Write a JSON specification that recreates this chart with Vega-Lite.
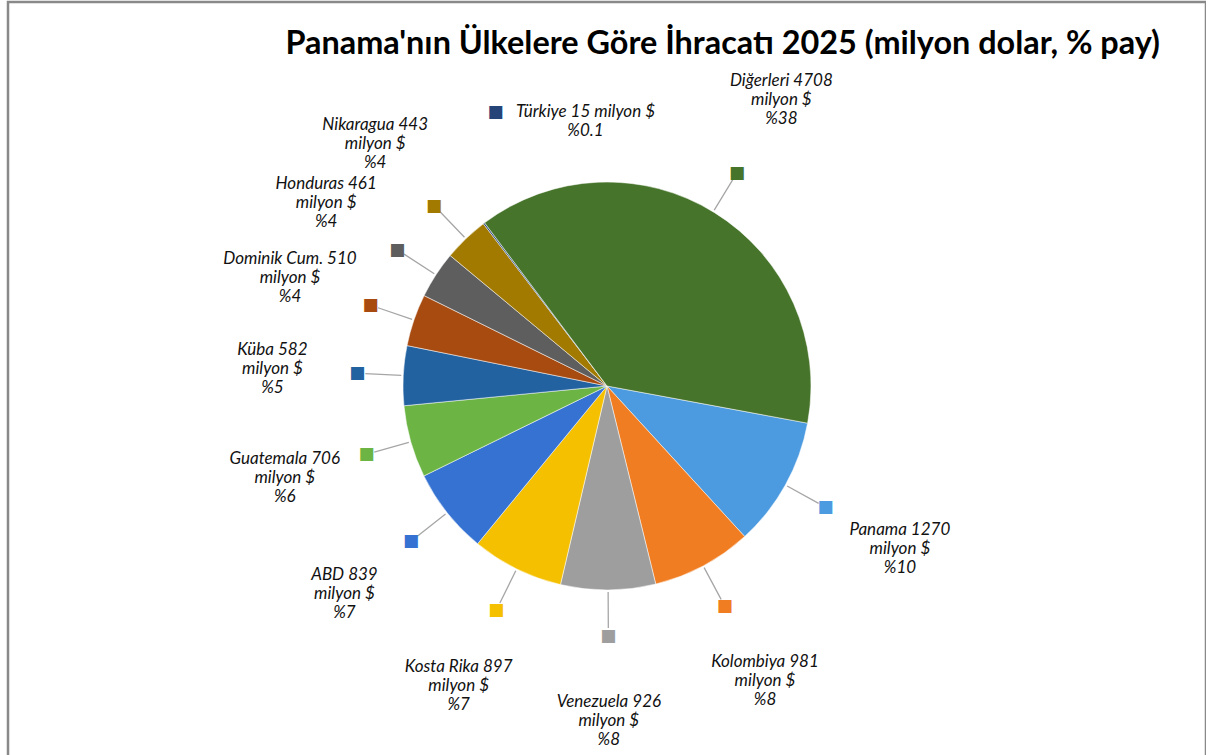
{
  "$schema": "https://vega.github.io/schema/vega-lite/v6.json",
  "width": 1198,
  "height": 768,
  "autosize": {"type": "none"},
  "padding": {"left": 8, "top": 2, "right": 0, "bottom": 0},
  "background": "white",
  "config": {"view": {"stroke": null}},
  "title": {
    "text": "Panama'nın Ülkelere Göre İhracatı 2025 (milyon dolar, % pay)",
    "anchor": "end",
    "frame": "group",
    "offset": -60,
    "dx": -46,
    "font": "Lato",
    "fontSize": 32.4,
    "fontWeight": "bold",
    "color": "#000000"
  },
  "data": {
    "values": [
      {"idx": 1, "name": "Panama", "value": 1270, "lines": ["Panama 1270", "milyon $", "%10"]},
      {"idx": 2, "name": "Kolombiya", "value": 981, "lines": ["Kolombiya 981", "milyon $", "%8"]},
      {"idx": 3, "name": "Venezuela", "value": 926, "lines": ["Venezuela 926", "milyon $", "%8"]},
      {"idx": 4, "name": "Kosta Rika", "value": 897, "lines": ["Kosta Rika 897", "milyon $", "%7"]},
      {"idx": 5, "name": "ABD", "value": 839, "lines": ["ABD 839", "milyon $", "%7"]},
      {"idx": 6, "name": "Guatemala", "value": 706, "lines": ["Guatemala 706", "milyon $", "%6"]},
      {"idx": 7, "name": "Küba", "value": 582, "lines": ["Küba 582", "milyon $", "%5"]},
      {"idx": 8, "name": "Dominik Cum.", "value": 510, "lines": ["Dominik Cum. 510", "milyon $", "%4"]},
      {"idx": 9, "name": "Honduras", "value": 461, "lines": ["Honduras 461", "milyon $", "%4"]},
      {"idx": 10, "name": "Nikaragua", "value": 443, "lines": ["Nikaragua 443", "milyon $", "%4"]},
      {"idx": 11, "name": "Türkiye", "value": 15, "lines": ["Türkiye 15 milyon $", "%0.1"]},
      {"idx": 12, "name": "Diğerleri", "value": 4708, "lines": ["Diğerleri 4708", "milyon $", "%38"]}
    ]
  },
  "layer": [
    {
      "transform": [{"aggregate": [{"op": "count", "as": "n"}]}],
      "mark": {"type": "rect", "filled": false, "stroke": "#898989", "strokeWidth": 2.5},
      "encoding": {}
    },
    {
      "mark": {"type": "arc", "radius": 204, "stroke": "#ffffff", "strokeOpacity": 0.5, "strokeWidth": 1},
      "encoding": {
        "theta": {"field": "value", "type": "quantitative", "stack": true, "scale": {"range": [1.754, 8.037]}},
        "order": {"field": "idx", "type": "quantitative"},
        "color": {
          "field": "name",
          "type": "nominal",
          "legend": null,
          "scale": {
            "domain": ["Panama", "Kolombiya", "Venezuela", "Kosta Rika", "ABD", "Guatemala", "Küba", "Dominik Cum.", "Honduras", "Nikaragua", "Türkiye", "Diğerleri"],
            "range": ["#4C9BE0", "#F07D22", "#9E9E9E", "#F5C000", "#3572D2", "#6CB545", "#2262A0", "#A84B10", "#5E5E5E", "#A27A00", "#264478", "#46742A"]
          }
        }
      }
    },
    {
      "transform": [{"filter": "datum.value >= 100"}],
      "mark": {"type": "arc", "radius": 242, "radius2": 206, "padAngle": 3.1416, "filled": false, "stroke": "#a6a6a6", "strokeWidth": 1.3},
      "encoding": {
        "theta": {"field": "value", "type": "quantitative", "stack": true},
        "order": {"field": "idx", "type": "quantitative"}
      }
    },
    {
      "transform": [{"filter": "datum.value >= 100"}],
      "mark": {"type": "text", "radius": 250, "text": "■", "font": "DejaVu Sans", "fontSize": 17, "align": "center", "baseline": "middle"},
      "encoding": {
        "theta": {"field": "value", "type": "quantitative", "stack": true},
        "order": {"field": "idx", "type": "quantitative"},
        "color": {"field": "name", "type": "nominal", "legend": null}
      }
    },
    {
      "transform": [{"filter": "datum.value >= 100"}],
      "mark": {"type": "text", "radius": 335, "dy": -19, "font": "Lato", "fontSize": 17, "fontStyle": "italic", "lineHeight": 19, "fill": "#111111", "align": "center", "baseline": "middle"},
      "encoding": {
        "theta": {"field": "value", "type": "quantitative", "stack": true},
        "order": {"field": "idx", "type": "quantitative"},
        "text": {"field": "lines"}
      }
    },
    {
      "transform": [
        {"stack": "value", "groupby": [], "sort": [{"field": "idx", "order": "ascending"}], "as": ["s0", "s1"]},
        {"filter": "datum.value < 100"}
      ],
      "layer": [
        {
          "mark": {"type": "text", "radius": 265, "thetaOffset": 0.57, "dy": -9.5, "font": "Lato", "fontSize": 17, "fontStyle": "italic", "lineHeight": 19, "fill": "#111111", "align": "center", "baseline": "middle"},
          "encoding": {
            "theta": {"field": "s0", "type": "quantitative"},
            "text": {"field": "lines"}
          }
        },
        {
          "mark": {"type": "text", "radius": 265, "thetaOffset": 0.57, "text": "■", "font": "DejaVu Sans", "fontSize": 17, "align": "center", "baseline": "middle", "dx": -90, "dy": -9.5},
          "encoding": {
            "theta": {"field": "s0", "type": "quantitative"},
            "color": {"field": "name", "type": "nominal", "legend": null}
          }
        }
      ]
    }
  ]
}
